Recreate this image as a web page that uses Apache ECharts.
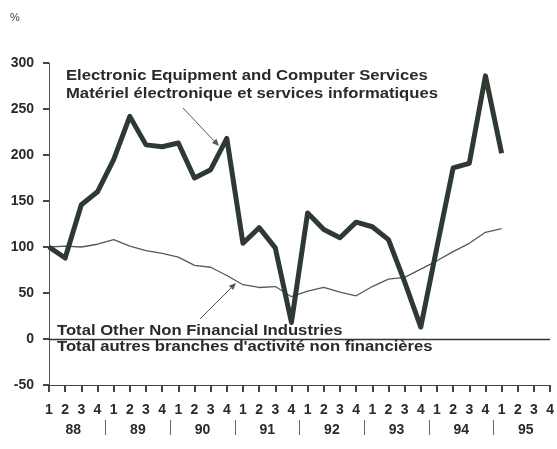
<!DOCTYPE html>
<html>
<head>
<meta charset="utf-8">
<script src="https://cdn.jsdelivr.net/npm/echarts@6/dist/echarts.min.js"></script>
<style>
  body { margin: 0; background: #fff; }
  #chart { width: 557px; height: 449px; }
</style>
</head>
<body>
<div id="chart"></div>
<script>
// quarters 1988 Q1 .. 1995 Q4
var quarters = [];
var years = ['88', '89', '90', '91', '92', '93', '94', '95'];
years.forEach(function () { quarters.push('1', '2', '3', '4'); });

// Electronic Equipment and Computer Services
var electronic = [100, 88, 146, 160, 195, 242, 211, 209, 213, 175, 184, 218,
  104, 121, 99, 18, 137, 119, 110, 127, 122, 108, 62, 13,
  100, 186, 191, 286, 202];
// Total Other Non Financial Industries
var total = [100, 101, 100, 103, 108, 101, 96, 93, 89, 80, 78, 69,
  59, 56, 57, 46, 52, 56, 51, 47, 57, 65, 67, 76,
  85, 95, 104, 116, 120];

var qTicks = quarters.map(function (q, i) { return i; });
var yearSeps = [3.5, 7.5, 11.5, 15.5, 19.5, 23.5, 27.5];
var yearCenters = [1.5, 5.5, 9.5, 13.5, 17.5, 21.5, 25.5, 29.5];

var FONT = '"Liberation Sans", Arial, sans-serif';
var TXT = '#2a2a2a';

function note(x, y, str) {
  return {
    type: 'text', x: x, y: y, scaleX: 1.11,
    style: { text: str, font: 'bold 15px ' + FONT, fill: TXT, textVerticalAlign: 'middle' }
  };
}

var chart = echarts.init(document.getElementById('chart'));
chart.setOption({
  backgroundColor: '#ffffff',
  animation: false,
  grid: { left: 49, right: 2, top: 63, bottom: 64 },
  xAxis: [{
    // quarter row
    type: 'value',
    position: 'bottom',
    min: 0,
    max: quarters.length - 1,
    axisLine: { show: true, onZero: false, lineStyle: { color: '#444', width: 1 } },
    axisTick: { show: false },
    axisLabel: {
      customValues: qTicks, margin: 18, color: TXT, fontWeight: 'bold', fontSize: 14, fontFamily: FONT,
      formatter: function (v) { return quarters[Math.round(v)]; }
    },
    splitLine: { show: false }
  }, {
    // quarter ticks, pointing up to the axis line
    type: 'value',
    position: 'bottom',
    offset: 7,
    min: 0,
    max: quarters.length - 1,
    axisLine: { show: false, onZero: false },
    axisTick: { show: true, inside: true, customValues: qTicks, length: 7, lineStyle: { color: '#444', width: 2 } },
    axisLabel: { customValues: [0], formatter: function () { return ''; } },
    splitLine: { show: false }
  }, {
    // year row with separators
    type: 'value',
    position: 'bottom',
    offset: 35,
    min: 0,
    max: quarters.length - 1,
    axisLine: { show: false, onZero: false },
    axisTick: { show: true, customValues: yearSeps, length: 15, lineStyle: { color: '#666' } },
    axisLabel: {
      customValues: yearCenters, margin: 3, color: TXT, fontWeight: 'bold', fontSize: 14, fontFamily: FONT,
      formatter: function (v) { return years[Math.round((v - 1.5) / 4)]; }
    },
    splitLine: { show: false }
  }],
  yAxis: {
    type: 'value',
    min: -50,
    max: 300,
    interval: 50,
    axisLine: { show: true, onZero: false, lineStyle: { color: '#555', width: 1 } },
    axisTick: { show: true, length: 6, lineStyle: { color: '#444', width: 2 } },
    axisLabel: { margin: 15, color: TXT, fontWeight: 'bold', fontSize: 14, fontFamily: FONT },
    splitLine: { show: false }
  },
  series: [{
    name: 'total',
    type: 'line',
    data: total.map(function (v, i) { return [i, v]; }),
    symbol: 'none',
    lineStyle: { color: '#4d5f4f', width: 1.3 },
    markLine: {
      silent: true,
      symbol: 'none',
      label: { show: false },
      lineStyle: { color: '#333', width: 1.3, type: 'solid' },
      data: [{ yAxis: 0 }]
    },
    z: 2
  }, {
    name: 'electronic',
    type: 'line',
    data: electronic.map(function (v, i) { return [i, v]; }),
    symbol: 'none',
    lineStyle: { color: '#2e3a31', width: 5, join: 'round' },
    z: 3
  }],
  graphic: [
    { type: 'text', x: 10, y: 18, style: { text: '%', font: '11px ' + FONT, fill: '#444', textVerticalAlign: 'middle' } },
    note(66, 76, 'Electronic Equipment and Computer Services'),
    note(66, 94, 'Matériel électronique et services informatiques'),
    note(57, 331, 'Total Other Non Financial Industries'),
    note(57, 347, 'Total autres branches d\'activité non financières'),
    // arrows
    { type: 'line', shape: { x1: 183, y1: 108, x2: 216, y2: 143 }, style: { stroke: '#555', lineWidth: 1 } },
    { type: 'polygon', shape: { points: [[219, 146], [212, 143], [216.4, 138.8]] }, style: { fill: '#555' } },
    { type: 'line', shape: { x1: 200, y1: 319, x2: 233, y2: 286 }, style: { stroke: '#555', lineWidth: 1 } },
    { type: 'polygon', shape: { points: [[236, 283], [233.2, 290.1], [228.9, 285.8]] }, style: { fill: '#555' } }
  ]
});
</script>
</body>
</html>
